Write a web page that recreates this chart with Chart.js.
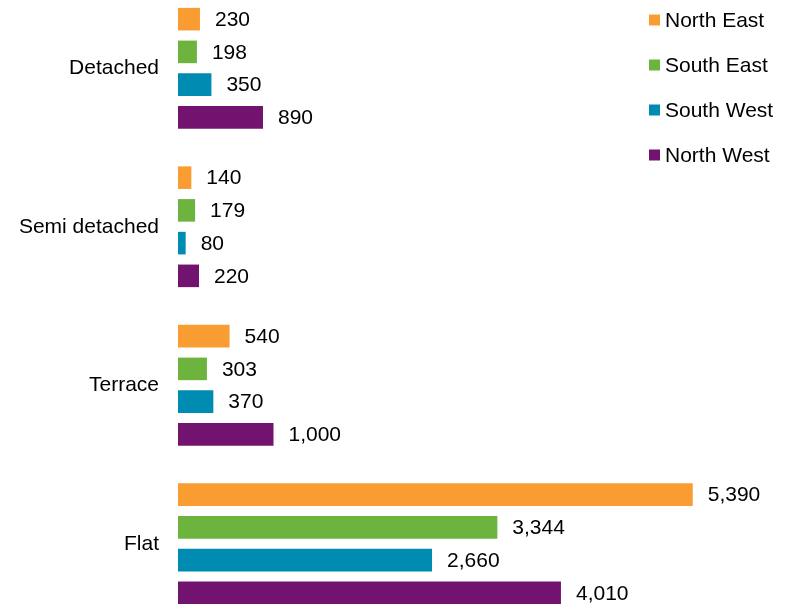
<!DOCTYPE html>
<html>
<head>
<meta charset="utf-8">
<script src="https://cdn.jsdelivr.net/npm/chart.js@4.4.1/dist/chart.umd.min.js"></script>
<style>
  html, body { margin: 0; padding: 0; background: #fff; overflow: hidden; }
  #wrap { position: relative; width: 792px; height: 604px; overflow: hidden; }
  #wrap canvas { position: absolute; left: 0; top: -11px; }
</style>
</head>
<body>
<div id="wrap">
  <canvas id="housingChart" width="792" height="634"></canvas>
</div>
<script>
// chart data
const categories = ['Detached', 'Semi detached', 'Terrace', 'Flat'];
const northEast = [230, 140, 540, 5390];
const southEast = [198, 179, 303, 3344];
const southWest = [350, 80, 370, 2660];
const northWest = [890, 220, 1000, 4010];

const FONT = '"Liberation Sans", Arial, sans-serif';

// value labels to the right of each bar
const valueLabels = {
  id: 'valueLabels',
  afterDatasetsDraw(chart) {
    const ctx = chart.ctx;
    ctx.save();
    ctx.font = '21px ' + FONT;
    ctx.fillStyle = '#000';
    ctx.textAlign = 'left';
    ctx.textBaseline = 'middle';
    chart.data.datasets.forEach((ds, i) => {
      chart.getDatasetMeta(i).data.forEach((bar, j) => {
        ctx.fillText(ds.data[j].toLocaleString('en-US'), bar.x + 15, bar.y + 1);
      });
    });
    ctx.restore();
  }
};

// legend stacked in the top right corner (canvas is shifted up by 11px)
const cornerLegend = {
  id: 'cornerLegend',
  afterDraw(chart) {
    const ctx = chart.ctx;
    ctx.save();
    ctx.font = '21px ' + FONT;
    ctx.textAlign = 'left';
    ctx.textBaseline = 'middle';
    chart.data.datasets.forEach((ds, i) => {
      const y = 31 + i * 45;
      ctx.fillStyle = ds.backgroundColor;
      ctx.fillRect(649, y - 5.5, 11, 11);
      ctx.fillStyle = '#000';
      ctx.fillText(ds.label, 665, y + 1);
    });
    ctx.restore();
  }
};

const ctx = document.getElementById('housingChart');
new Chart(ctx, {
  type: 'bar',
  data: {
    labels: categories,
    datasets: [
      { label: 'North East', data: northEast, backgroundColor: '#F99D33' },
      { label: 'South East', data: southEast, backgroundColor: '#6DB43F' },
      { label: 'South West', data: southWest, backgroundColor: '#008BB2' },
      { label: 'North West', data: northWest, backgroundColor: '#72146F' }
    ]
  },
  options: {
    indexAxis: 'y',
    responsive: false,
    animation: false,
    events: [],
    categoryPercentage: 0.826,
    barPercentage: 0.69,
    layout: { padding: { left: 0, right: 41, top: 0, bottom: 0 } },
    plugins: {
      legend: { display: false },
      tooltip: { enabled: false }
    },
    scales: {
      x: {
        display: false,
        min: 0,
        max: 6000
      },
      y: {
        grid: { display: false, drawTicks: false },
        border: { display: false },
        ticks: {
          color: '#000',
          padding: 19,
          font: { family: FONT, size: 21 }
        },
        afterFit(scale) {
          scale.width = 178;
          scale.paddingTop = 0;
          scale.paddingBottom = 0;
        }
      }
    }
  },
  plugins: [valueLabels, cornerLegend]
});
</script>
</body>
</html>
